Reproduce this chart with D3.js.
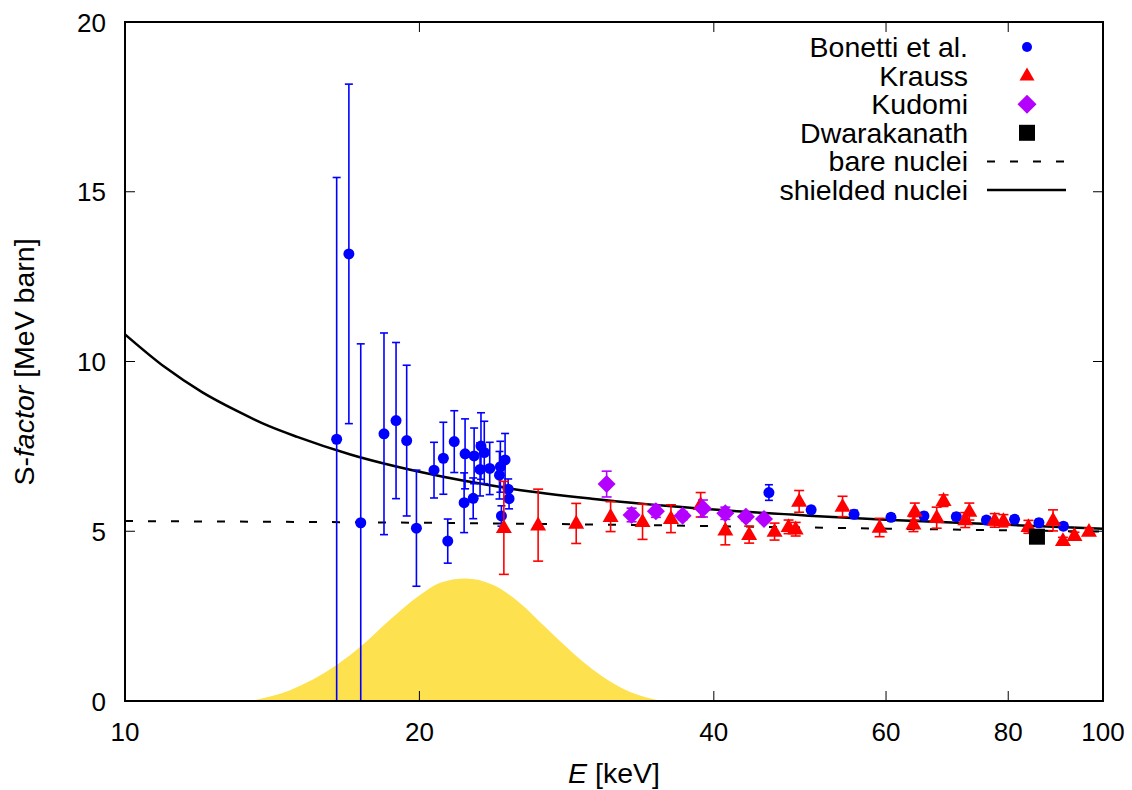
<!DOCTYPE html>
<html>
<head>
<meta charset="utf-8">
<script src="https://cdn.jsdelivr.net/npm/d3@7"></script>
<style>
  html, body { margin: 0; padding: 0; background: #fff; }
  svg { display: block; }
  text { font-family: "Liberation Sans", Arial, Helvetica, sans-serif; fill: #000; }
</style>
</head>
<body>
<svg id="chart" width="1132" height="790"></svg>
<script>
// ---------------- data ----------------
const bonettiE   = [16.46, 16.94, 17.42, 18.40, 18.93, 19.41, 19.86, 20.70, 21.16, 21.38, 21.71, 22.22, 22.27, 22.70, 22.75, 23.07, 23.12, 23.30, 23.60, 24.15, 24.20, 24.26, 24.47, 24.65, 24.70, 45.54, 50.30, 55.65, 60.70, 65.60, 70.80, 76.00, 81.20, 86.00, 91.10];
const bonettiS   = [7.71, 13.17, 5.25, 7.87, 8.26, 7.67, 5.09, 6.80, 7.15, 4.71, 7.64, 5.84, 7.28, 5.97, 7.22, 6.82, 7.51, 7.32, 6.85, 6.65, 6.90, 5.45, 7.10, 6.24, 5.96, 6.14, 5.63, 5.50, 5.41, 5.45, 5.43, 5.33, 5.35, 5.25, 5.15];
const bonettiErr = [7.71, 5.00, 5.27, 2.97, 2.30, 2.22, 1.71, 0.82, 1.06, 0.65, 0.91, 0.88, 1.03, 0.60, 0.82, 0.78, 0.98, 0.92, 0.77, 0.70, 0.75, 0.30, 0.78, 0.30, 0.30, 0.23, 0.10, 0.12, 0.10, 0.10, 0.10, 0.10, 0.10, 0.10, 0.10];

const kraussE   = [24.40, 26.45, 28.93, 31.37, 33.82, 36.16, 38.78, 41.10, 43.47, 46.15, 47.70, 48.50, 48.90, 54.16, 59.10, 64.00, 64.20, 67.60, 68.70, 72.30, 73.00, 77.50, 79.10, 83.90, 88.90, 91.00, 93.50, 96.75];
const kraussS   = [5.10, 5.18, 5.23, 5.43, 5.28, 5.37, 5.78, 5.03, 4.90, 4.99, 5.13, 5.06, 5.88, 5.73, 5.11, 5.21, 5.58, 5.40, 5.90, 5.33, 5.58, 5.32, 5.31, 5.13, 5.32, 4.72, 4.87, 4.99];
const kraussErr = [1.37, 1.06, 0.59, 0.44, 0.52, 0.41, 0.36, 0.43, 0.25, 0.25, 0.20, 0.20, 0.32, 0.30, 0.27, 0.22, 0.25, 0.31, 0.17, 0.22, 0.25, 0.20, 0.18, 0.19, 0.31, 0.10, 0.10, 0.10];

const kudomiE   = [31.08, 32.96, 34.90, 37.17, 38.99, 41.10, 43.14, 45.02];
const kudomiS   = [6.39, 5.48, 5.59, 5.46, 5.67, 5.53, 5.43, 5.36];
const kudomiErr = [0.38, 0.20, 0.18, 0.12, 0.25, 0.18, 0.12, 0.10];

const dwarakanathE = [85.6];
const dwarakanathS = [4.84];

const bareE = [10, 20, 30, 50, 70, 100];
const bareS = [5.30, 5.25, 5.20, 5.11, 5.05, 4.99];

const shieldedE = [10, 11, 12, 13, 14, 15, 17, 20, 25, 30, 40, 50, 60, 80, 100];
const shieldedS = [10.80, 9.82, 9.09, 8.55, 8.11, 7.78, 7.26, 6.75, 6.24, 5.96, 5.64, 5.46, 5.34, 5.19, 5.07];

const gamowE = [13.42, 14.75, 16.46, 17.38, 18.66, 20.03, 21.0, 22.27, 23.8, 25.35, 26.98, 28.74, 30.6, 32.8, 35.4];
const gamowS = [0.00, 0.32, 1.06, 1.58, 2.39, 3.12, 3.48, 3.61, 3.42, 2.88, 2.14, 1.40, 0.77, 0.27, 0.00];

const xTicks = [10, 20, 40, 60, 80, 100];
const yTicks = [0, 5, 10, 15, 20];

const legendLabels = ["Bonetti et al.", "Krauss", "Kudomi", "Dwarakanath", "bare nuclei", "shielded nuclei"];

// ---------------- layout ----------------
const L = 125, R = 1103, T = 22, B = 701;
const svg = d3.select("#chart");
const FS = 26;      // tick labels
const FSL = 28.5;   // legend & axis titles

const x = d3.scaleLog().domain([10, 100]).range([L, R]);
const y = d3.scaleLinear().domain([0, 20]).range([B, T]);

svg.append("defs").append("clipPath").attr("id", "clip")
  .append("rect").attr("x", L).attr("y", T).attr("width", R - L).attr("height", B - T);

const plot = svg.append("g").attr("clip-path", "url(#clip)");

// Gamow peak
const gamow = gamowE.map((e, i) => [e, gamowS[i]]);
plot.append("path")
  .datum(gamow)
  .attr("fill", "#fde14e")
  .attr("d", d3.area().x(d => x(d[0])).y0(y(0)).y1(d => y(d[1])).curve(d3.curveMonotoneX));

// ticks (inward, mirrored)
const tk = svg.append("g").attr("stroke", "#000").attr("stroke-width", 1);
xTicks.forEach(t => {
  tk.append("line").attr("x1", x(t)).attr("x2", x(t)).attr("y1", B).attr("y2", B - 10);
  tk.append("line").attr("x1", x(t)).attr("x2", x(t)).attr("y1", T).attr("y2", T + 10);
});
yTicks.forEach(t => {
  tk.append("line").attr("x1", L).attr("x2", L + 10).attr("y1", y(t)).attr("y2", y(t));
  tk.append("line").attr("x1", R).attr("x2", R - 10).attr("y1", y(t)).attr("y2", y(t));
});

// curves
const bare = bareE.map((e, i) => [e, bareS[i]]);
const shielded = shieldedE.map((e, i) => [e, shieldedS[i]]);
const line = d3.line().x(d => x(d[0])).y(d => y(d[1])).curve(d3.curveMonotoneX);
plot.append("path").datum(bare).attr("fill", "none").attr("stroke", "#000")
  .attr("stroke-width", 2).attr("stroke-dasharray", "8,15").attr("d", line);
plot.append("path").datum(shielded).attr("fill", "none").attr("stroke", "#000")
  .attr("stroke-width", 2.5).attr("d", line);

// error bars helper
function errorBars(E, S, Err, color, cap, width) {
  const g = plot.append("g").attr("stroke", color).attr("stroke-width", width).attr("fill", "none");
  E.forEach((e, i) => {
    const cx = x(e), lo = Math.max(0, S[i] - Err[i]), hi = S[i] + Err[i];
    g.append("line").attr("x1", cx).attr("x2", cx).attr("y1", y(lo)).attr("y2", y(hi));
    g.append("line").attr("x1", cx - cap).attr("x2", cx + cap).attr("y1", y(hi)).attr("y2", y(hi));
    if (S[i] - Err[i] > 0)
      g.append("line").attr("x1", cx - cap).attr("x2", cx + cap).attr("y1", y(lo)).attr("y2", y(lo));
  });
}

const diamond = (s) => `M0,${-s}L${s},0L0,${s}L${-s},0Z`;
const triangle = (s) => { const h = s * 0.866; return `M0,${-h * 0.62}L${s / 2},${h * 0.38}L${-s / 2},${h * 0.38}Z`; };

// Bonetti
errorBars(bonettiE, bonettiS, bonettiErr, "#0000ff", 4, 1.6);
plot.append("g").selectAll("circle").data(bonettiE).join("circle")
  .attr("cx", d => x(d)).attr("cy", (d, i) => y(bonettiS[i])).attr("r", 5.5).attr("fill", "#0000ff");

// Krauss
errorBars(kraussE, kraussS, kraussErr, "#ff0000", 5, 1.6);
plot.append("g").selectAll("path").data(kraussE).join("path")
  .attr("transform", (d, i) => `translate(${x(d)},${y(kraussS[i])})`)
  .attr("d", triangle(16)).attr("fill", "#ff0000");

// Kudomi
errorBars(kudomiE, kudomiS, kudomiErr, "#b300ff", 5, 1.6);
plot.append("g").selectAll("path").data(kudomiE).join("path")
  .attr("transform", (d, i) => `translate(${x(d)},${y(kudomiS[i])})`)
  .attr("d", diamond(9)).attr("fill", "#b300ff");

// Dwarakanath
plot.append("g").selectAll("rect").data(dwarakanathE).join("rect")
  .attr("x", d => x(d) - 8).attr("y", (d, i) => y(dwarakanathS[i]) - 8)
  .attr("width", 16).attr("height", 16).attr("fill", "#000");

// border
svg.append("rect").attr("x", L).attr("y", T).attr("width", R - L).attr("height", B - T)
  .attr("fill", "none").attr("stroke", "#000").attr("stroke-width", 2);

// tick labels
xTicks.forEach(t => {
  svg.append("text").attr("x", x(t)).attr("y", 741).attr("text-anchor", "middle")
    .attr("font-size", FS).text(t);
});
yTicks.forEach(t => {
  svg.append("text").attr("x", 106).attr("y", y(t) + 9.5).attr("text-anchor", "end")
    .attr("font-size", FS).text(t);
});

// axis titles
const xt = svg.append("text").attr("x", 614).attr("y", 783).attr("text-anchor", "middle").attr("font-size", FSL);
xt.append("tspan").attr("font-style", "italic").text("E");
xt.append("tspan").text(" [keV]");

const yt = svg.append("text").attr("transform", "translate(34,362) rotate(-90)")
  .attr("text-anchor", "middle").attr("font-size", FSL);
yt.append("tspan").text("S-");
yt.append("tspan").attr("font-style", "italic").text("factor");
yt.append("tspan").text(" [MeV barn]");

// legend
const lg = svg.append("g");
const lx = 968, sx = 1027, ly0 = 47, dy = 28.6;
legendLabels.forEach((lab, i) => {
  lg.append("text").attr("x", lx).attr("y", ly0 + i * dy + 10).attr("text-anchor", "end")
    .attr("font-size", FSL).text(lab);
});
lg.append("circle").attr("cx", sx).attr("cy", ly0).attr("r", 5).attr("fill", "#0000ff");
lg.append("path").attr("transform", `translate(${sx},${ly0 + dy})`).attr("d", triangle(15)).attr("fill", "#ff0000");
lg.append("path").attr("transform", `translate(${sx},${ly0 + 2 * dy})`).attr("d", diamond(9.5)).attr("fill", "#b300ff");
lg.append("rect").attr("x", sx - 8).attr("y", ly0 + 3 * dy - 8).attr("width", 16).attr("height", 16).attr("fill", "#000");
lg.append("line").attr("x1", 987).attr("x2", 1066).attr("y1", ly0 + 4 * dy).attr("y2", ly0 + 4 * dy)
  .attr("stroke", "#000").attr("stroke-width", 2).attr("stroke-dasharray", "8,15");
lg.append("line").attr("x1", 987).attr("x2", 1066).attr("y1", ly0 + 5 * dy).attr("y2", ly0 + 5 * dy)
  .attr("stroke", "#000").attr("stroke-width", 2.5);
</script>
</body>
</html>
